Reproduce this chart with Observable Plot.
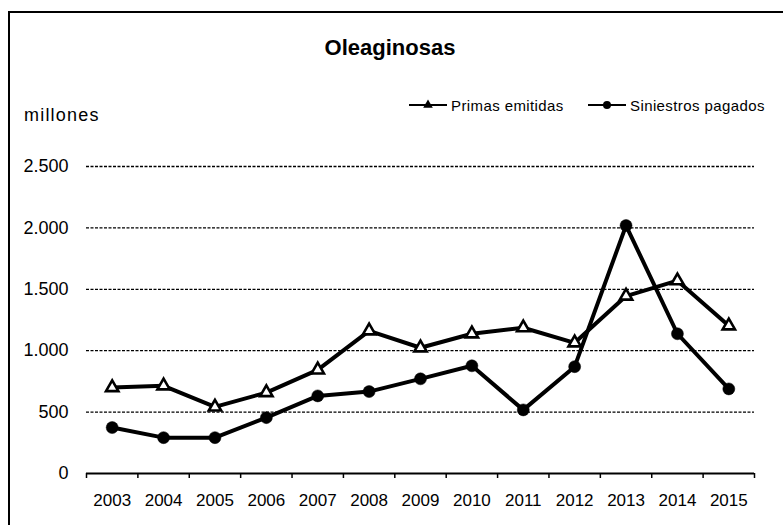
<!DOCTYPE html>
<html>
<head>
<meta charset="utf-8">
<script src="https://cdn.jsdelivr.net/npm/d3@7"></script>
<script src="https://cdn.jsdelivr.net/npm/@observablehq/plot@0.6"></script>
<style>
  html, body { margin: 0; padding: 0; background: #fff; }
  body { width: 783px; height: 525px; overflow: hidden; font-family: "Liberation Sans", Arial, sans-serif; }
  #wrap { position: relative; width: 783px; height: 525px; }
  #frame { position: absolute; left: 8px; top: 11px; width: 790px; height: 530px; border-left: 2px solid #000; border-top: 2px solid #000; box-sizing: border-box; }
  .lbl { position: absolute; white-space: nowrap; color: #000; line-height: 1; }
  #title { left: 390px; top: 37px; transform: translateX(-50%); font-weight: bold; font-size: 22px; }
  #units { left: 24px; top: 106px; font-size: 18px; letter-spacing: 1.2px; }
  .leg { position: absolute; top: 97px; height: 16px; display: flex; align-items: center; font-size: 15px; letter-spacing: 0.4px; }
  .leg svg { display: block; margin-right: 2px; }
</style>
</head>
<body>
<div id="wrap">
  <div id="chart"></div>
  <div id="frame"></div>
  <div class="lbl" id="title">Oleaginosas</div>
  <div class="lbl" id="units">millones</div>
  <div class="leg" id="leg1" style="left:409px"></div>
  <div class="leg" id="leg2" style="left:588px"></div>
</div>
<script>
const years = [2003, 2004, 2005, 2006, 2007, 2008, 2009, 2010, 2011, 2012, 2013, 2014, 2015];
const primasEmitidas = [700, 714, 542, 659, 844, 1162, 1024, 1138, 1187, 1064, 1445, 1570, 1203];
const siniestrosPagados = [374, 292, 292, 455, 632, 667, 771, 877, 518, 870, 2019, 1138, 689];
const yTicks = [0, 500, 1000, 1500, 2000, 2500];
const seriesNames = ["Primas emitidas", "Siniestros pagados"];

const rows = [];
years.forEach((yr, i) => {
  rows.push({year: yr, value: primasEmitidas[i], series: seriesNames[0]});
  rows.push({year: yr, value: siniestrosPagados[i], series: seriesNames[1]});
});
const primasRows = rows.filter(d => d.series === seriesNames[0]);
const siniRows = rows.filter(d => d.series === seriesNames[1]);
const boundaries = years.map(y => y - 0.5).concat([years[years.length - 1] + 0.5]);
const fmt = d => d3.format(",")(d).replace(/,/g, ".");

const chart = Plot.plot({
  width: 783,
  height: 525,
  marginLeft: 86,
  marginRight: 29,
  marginTop: 166,
  marginBottom: 52,
  style: {fontFamily: "'Liberation Sans', Arial, sans-serif", color: "#000", background: "#fff"},
  x: {domain: [years[0] - 0.5, years[years.length - 1] + 0.5]},
  y: {domain: [0, 2500]},
  marks: [
    Plot.gridY(yTicks.filter(t => t > 0), {stroke: "#000", strokeOpacity: 1, strokeWidth: 1.3, strokeDasharray: "3,1.5"}),
    Plot.axisY(yTicks, {tickSize: 0, tickPadding: 18, fontSize: 18, tickFormat: fmt, label: null}),
    Plot.axisX(years, {tickSize: 0, tickPadding: 20, fontSize: 17, tickFormat: d => String(d), label: null}),
    Plot.axisX(boundaries, {tickSize: 5, strokeWidth: 1.5, text: null, label: null}),
    Plot.ruleY([0], {stroke: "#000", strokeWidth: 2}),
    Plot.line(primasRows, {x: "year", y: "value", stroke: "#000", strokeWidth: 4}),
    Plot.line(siniRows, {x: "year", y: "value", stroke: "#000", strokeWidth: 4}),
    Plot.dot(primasRows, {x: "year", y: "value", symbol: "triangle", r: 4.6, fill: "#fff", stroke: "#000", strokeWidth: 2.6}),
    Plot.dot(siniRows, {x: "year", y: "value", symbol: "circle", r: 6, fill: "#000", stroke: "#000", strokeWidth: 0.5})
  ]
});
document.getElementById("chart").appendChild(chart);

function legendItem(el, name, sym) {
  const ns = "http://www.w3.org/2000/svg";
  const s = document.createElementNS(ns, "svg");
  s.setAttribute("width", "40");
  s.setAttribute("height", "16");
  const l = document.createElementNS(ns, "line");
  l.setAttribute("x1", "0"); l.setAttribute("x2", "38");
  l.setAttribute("y1", "8"); l.setAttribute("y2", "8");
  l.setAttribute("stroke", "#000"); l.setAttribute("stroke-width", "2");
  s.appendChild(l);
  const m = document.createElementNS(ns, "path");
  m.setAttribute("d", d3.symbol(sym === "triangle" ? d3.symbolTriangle : d3.symbolCircle, sym === "triangle" ? 40 : 50)());
  m.setAttribute("transform", "translate(19,8)");
  m.setAttribute("fill", "#000");
  s.appendChild(m);
  el.appendChild(s);
  const t = document.createElement("span");
  t.textContent = name;
  el.appendChild(t);
}
legendItem(document.getElementById("leg1"), seriesNames[0], "triangle");
legendItem(document.getElementById("leg2"), seriesNames[1], "circle");
</script>
</body>
</html>
